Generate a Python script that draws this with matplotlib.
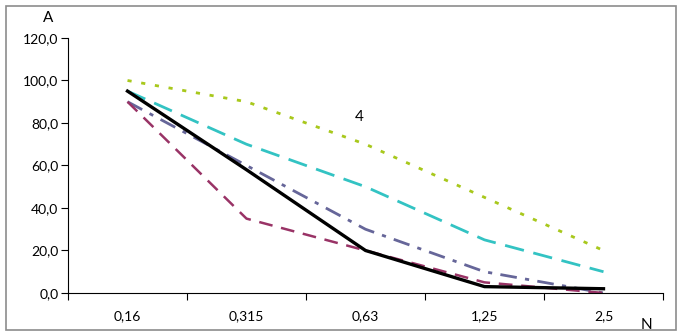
import matplotlib
matplotlib.use("Agg")
import matplotlib.pyplot as plt
from matplotlib.patches import Rectangle

plt.rcParams['font.family'] = ['Lato', 'DejaVu Sans']

categories = ['0,16', '0,315', '0,63', '1,25', '2,5']
s_yellow = [100, 90, 70, 45, 20]
s_cyan = [95, 70, 50, 25, 10]
s_slate = [90, 60, 30, 10, 0]
s_maroon = [90, 35, 20, 5, 0]
s_black = [95, 58, 20, 3, 2]

fig = plt.figure(figsize=(6.8, 3.35), dpi=100)
fig.patches.append(Rectangle((0.009, 0.015), 0.985, 0.968, transform=fig.transFigure,
                             fill=False, edgecolor='#8c8c8c', linewidth=1.2))
ax = fig.add_axes([0.1, 0.1254, 0.875, 0.7612])

x = list(range(len(categories)))
ax.plot(x, s_yellow, color='#a8c81c', lw=2, dashes=(1.5, 3.5))
ax.plot(x, s_cyan, color='#33c3c3', lw=2, dashes=(7, 3.5))
ax.plot(x, s_slate, color='#666699', lw=2, dashes=(6, 3, 1.5, 3))
ax.plot(x, s_maroon, color='#993366', lw=1.8, dashes=(5.5, 3.5))
ax.plot(x, s_black, color='black', lw=2.4)

ax.set_xlim(-0.5, 4.5)
ax.set_ylim(0, 120)
ax.set_yticks(range(0, 121, 20))
ax.set_yticklabels([f'{v},0' for v in range(0, 121, 20)])
ax.set_xticks([i - 0.5 for i in range(6)])
ax.set_xticklabels([])
ax.set_xticks(x, minor=True)
ax.set_xticklabels(categories, minor=True)
ax.tick_params(axis='x', which='minor', length=0, pad=12, labelsize=10)
ax.tick_params(axis='x', which='major', length=5, direction='out')
ax.tick_params(axis='y', length=5, direction='out', labelsize=10, pad=2)
for s in ['top', 'right']:
    ax.spines[s].set_visible(False)

fig.text(48 / 680, 1 - 18 / 335, 'A', fontsize=11, ha='center', va='center')
fig.text(646 / 680, 1 - 325 / 335, 'N', fontsize=11, ha='center', va='center')
ax.text(1.95, 83, '4', fontsize=11, ha='center', va='center')

fig.savefig('out.png', dpi=100)
